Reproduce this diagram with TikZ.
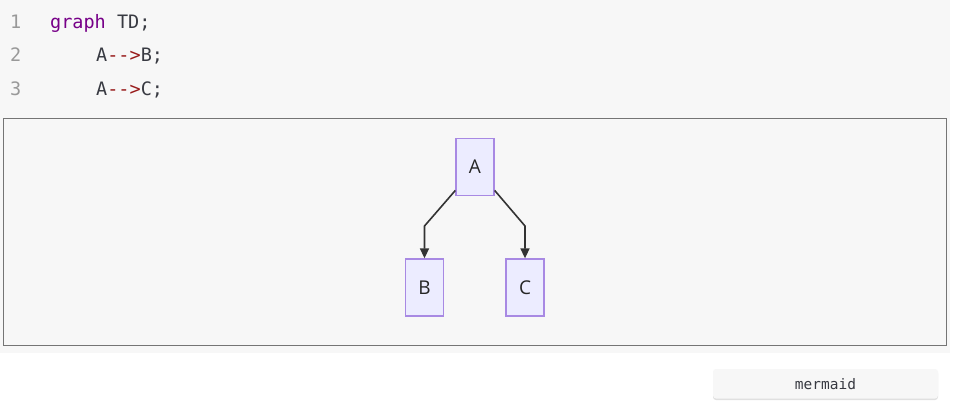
\documentclass[tikz,border=0pt]{standalone}
\usepackage{fontspec}
\setmainfont{Open Sans}
\setmonofont{DejaVu Sans Mono}
\usetikzlibrary{positioning,calc,arrows.meta}

\definecolor{codebg}{HTML}{F7F7F7}
\definecolor{frame1}{HTML}{757575}
\definecolor{boxfill}{HTML}{ECECFF}
\definecolor{boxline}{HTML}{A889E3}
\definecolor{numgray}{HTML}{999999}
\definecolor{codetext}{HTML}{383A42}
\definecolor{keyword}{HTML}{770088}
\definecolor{operator}{HTML}{981A1A}
\definecolor{edgeline}{HTML}{333333}

\begin{document}
\begin{tikzpicture}[x=1pt,y=-1pt]

	\tikzstyle{box1}=[draw=boxline, fill=boxfill, line width=1.3pt, minimum width=38pt, minimum height=57pt, inner sep=0pt, text=black!85, font=\fontsize{19}{21}\selectfont];
	\tikzstyle{arrow1}=[-{Triangle[length=10pt,width=9pt]}, draw=edgeline, line width=1.6pt];
	\tikzstyle{num1}=[text=numgray, font=\ttfamily\fontsize{18.5}{21}\selectfont, anchor=base west, inner sep=0pt];
	\tikzstyle{code1}=[text=codetext, font=\ttfamily\fontsize{18.5}{21}\selectfont, anchor=base west, inner sep=0pt];

	\useasboundingbox (0,0) rectangle (955,403);
	\fill [white] (0,0) rectangle (955,403);

	% code block
	\fill [codebg] (0,0) rectangle (950,353);
	\node [num1] (n1) at (10,28.5){1};
	\node [num1] (n2) at (10,62){2};
	\node [num1] (n3) at (10,95.5){3};
	\node [code1] (l1) at (50,28.5){\textcolor{keyword}{graph} TD;};
	\node [code1] (l2) at (96,62){A\textcolor{operator}{-->}B;};
	\node [code1] (l3) at (96,95.5){A\textcolor{operator}{-->}C;};

	% rendered graph
	\draw [frame1, line width=1pt] (3.5,118.5) rectangle (946.5,345.5);

	\node [box1] (A) at (475,167){A};
	\node [box1] (B) at (424.5,287.5){B};
	\node [box1] (C) at (525,287.5){C};

	\coordinate (ab) at (424.5,226);
	\coordinate (ac) at (525,226);
	\draw [arrow1] (A.230) -- (ab) -- (B.north);
	\draw [arrow1] (A.310) -- (ac) -- (C.north);

	% button
	\fill [black!12, rounded corners=3pt] (713,370.5) rectangle (938,400);
	\fill [codebg, rounded corners=3pt] (713,369) rectangle (938,398.5);
	\node [text=codetext, font=\ttfamily\fontsize{14.5}{16}\selectfont, inner sep=0pt] (btn) at (825.5,384){mermaid};

\end{tikzpicture}
\end{document}
